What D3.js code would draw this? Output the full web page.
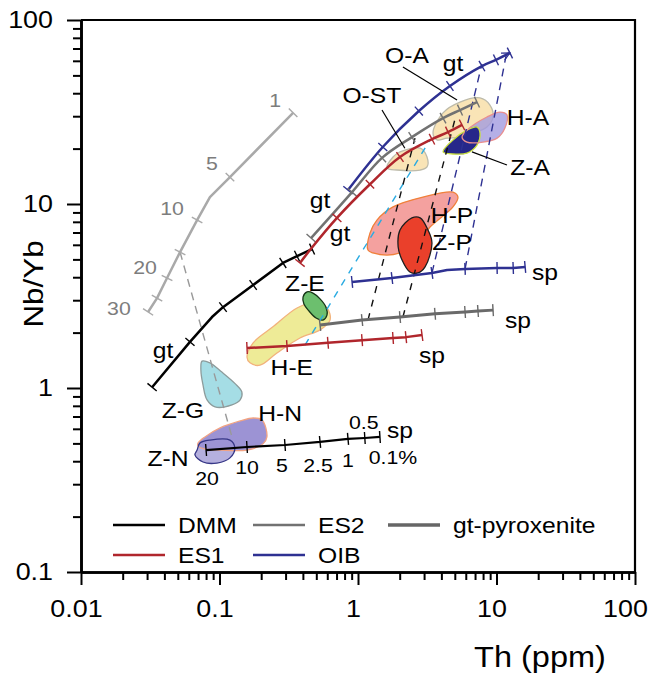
<!DOCTYPE html>
<html>
<head>
<meta charset="utf-8">
<script src="https://cdnjs.cloudflare.com/ajax/libs/d3/7.8.5/d3.min.js"></script>
<style>
body { margin: 0; background: #fff; }
svg text { font-family: "Liberation Sans", Arial, sans-serif; }
</style>
</head>
<body>
<div id="vis"></div>
<script>
"use strict";
// tick labels
var xTicks = [0.01, 0.1, 1, 10, 100];
var yTicks = [0.1, 1, 10, 100];

// melting curves, points are [Th (ppm), Nb/Yb]
var dmmGt = [[0.0326, 1.01], [0.0612, 1.78], [0.0883, 2.43], [0.106, 2.75], [0.175, 3.63], [0.287, 4.78], [0.363, 5.21], [0.466, 5.69]];
var es1Gt = [[0.381, 4.78], [0.450, 5.62], [0.705, 8.40], [1.22, 12.8], [2.01, 18.0], [3.42, 22.5], [4.47, 24.6], [5.64, 26.9]];
var es2Gt = [[0.458, 6.53], [0.906, 11.6], [1.49, 17.8], [2.45, 23.1], [4.11, 29.3], [5.45, 32.4], [7.23, 35.8]];
var oibGt = [[0.847, 11.9], [1.51, 20.4], [2.75, 32.0], [4.61, 43.8], [7.85, 56.2], [9.91, 60.7], [12.5, 66.2]];
var pyxGt = [[0.34, 31.3], [0.119, 14.0], [0.0853, 10.9], [0.0689, 8.18], [0.0519, 5.48], [0.0418, 3.96], [0.0354, 3.08], [0.0305, 2.59]];
var dmmSp = [[0.080, 0.460], [0.158, 0.478], [0.297, 0.490], [0.532, 0.509], [0.847, 0.529], [1.12, 0.535], [1.44, 0.542]];
var es1Sp = [[0.158, 1.65], [0.307, 1.69], [0.607, 1.76], [1.07, 1.82], [1.79, 1.87], [2.22, 1.89], [2.90, 1.94]];
var es2Sp = [[0.532, 2.20], [1.07, 2.34], [2.01, 2.43], [3.60, 2.53], [5.93, 2.59], [7.35, 2.62], [9.44, 2.65]];
var oibSp = [[0.906, 3.77], [1.76, 3.96], [3.42, 4.22], [4.40, 4.38], [5.93, 4.44], [10.1, 4.49], [13.2, 4.49], [16.1, 4.55]];

// mixing / tie lines
var pyxTie = [[0.0519, 5.48], [0.123, 0.542]];
var es1Tie = [[0.414, 1.71], [3.31, 22.3]];
var es2TieA = [[1.18, 2.34], [2.58, 22.8]];
var es2TieB = [[2.11, 2.43], [5.11, 30.5]];
var oibTieA = [[3.42, 4.22], [7.85, 57.7]];
var oibTieB = [[5.93, 4.44], [11.9, 67.9]];

// sample fields
var fieldZG = [[0.0748, 1.40], [0.0853, 1.37], [0.104, 1.22], [0.129, 1.06], [0.145, 0.951], [0.141, 0.861], [0.123, 0.809], [0.0929, 0.789], [0.0813, 0.861], [0.0760, 1.04], [0.0734, 1.25]];
var fieldHN = [[0.0700, 0.502], [0.0785, 0.542], [0.101, 0.607], [0.141, 0.662], [0.175, 0.687], [0.203, 0.670], [0.220, 0.542], [0.206, 0.497], [0.158, 0.460], [0.101, 0.460], [0.0785, 0.466], [0.0700, 0.484]];
var fieldZN = [[0.0689, 0.460], [0.0723, 0.502], [0.0853, 0.521], [0.119, 0.521], [0.129, 0.472], [0.119, 0.417], [0.0959, 0.391], [0.0760, 0.396], [0.0665, 0.433]];
var fieldHE = [[0.158, 1.47], [0.175, 1.76], [0.243, 2.15], [0.363, 2.72], [0.473, 2.90], [0.597, 2.72], [0.628, 2.34], [0.532, 2.07], [0.381, 1.87], [0.260, 1.55], [0.196, 1.33], [0.166, 1.37]];
var fieldZE = [[0.401, 3.12], [0.429, 3.33], [0.473, 3.28], [0.532, 3.05], [0.587, 2.75], [0.597, 2.49], [0.558, 2.34], [0.498, 2.40], [0.443, 2.62], [0.407, 2.86]];
var fieldHP = [[1.18, 5.62], [1.22, 6.95], [1.37, 8.18], [1.79, 9.64], [2.94, 10.9], [4.85, 11.6], [5.27, 10.9], [4.85, 9.64], [3.31, 7.50], [2.81, 6.37], [2.01, 5.42], [1.62, 5.28], [1.28, 5.42]];
var fieldZP = [[2.01, 7.22], [2.45, 8.40], [2.81, 8.40], [3.20, 7.22], [3.42, 6.14], [3.05, 4.55], [2.71, 4.22], [2.37, 4.27], [2.08, 4.96], [1.95, 5.84]];
var fieldOST = [[1.62, 15.7], [1.79, 18.0], [2.01, 19.2], [2.81, 20.1], [3.15, 18.0], [3.15, 15.9], [2.81, 15.3], [1.91, 15.3]];
var fieldOA = [[3.48, 24.3], [4.11, 31.3], [5.45, 35.8], [7.60, 37.7], [8.97, 34.5], [9.44, 29.7], [8.53, 26.2], [6.76, 24.3], [5.45, 23.1], [4.40, 22.8], [3.72, 22.3]];
var fieldHA = [[6.12, 25.2], [8.53, 29.7], [10.6, 31.6], [11.9, 30.5], [11.5, 25.9], [10.1, 22.8], [8.00, 21.7], [6.12, 21.7], [5.64, 23.1]];
var fieldZA = [[4.11, 19.2], [4.85, 22.3], [6.12, 25.2], [7.23, 26.2], [7.60, 24.3], [7.23, 20.9], [6.12, 18.9], [4.85, 18.7]];

// leader lines for field names
var leaders = [[[1.49, 32.4], [2.18, 20.1]], [[2.11, 55.6], [5.19, 36.7]], [[6.65, 19.2], [11.9, 16.3]]];

// labels [text, Th, Nb/Yb]
var fieldLabels = [['O-A', 2.26, 64.6], ['gt', 4.85, 58.3], ['O-ST', 1.26, 39.1], ['H-A', 16.9, 29.7], ['Z-A', 17.5, 15.9],
    ['gt', 0.532, 10.5], ['gt', 0.741, 6.95], ['H-P', 4.78, 8.71], ['Z-P', 4.78, 6.21], ['Z-E', 0.414, 3.72],
    ['sp', 22.4, 4.27], ['sp', 14.3, 2.34], ['sp', 3.42, 1.51], ['H-E', 0.333, 1.30], ['gt', 0.0391, 1.61],
    ['Z-G', 0.0544, 0.758], ['H-N', 0.274, 0.731], ['Z-N', 0.0425, 0.417], ['sp', 2.01, 0.592]];
var dmmMeltLabels = [['0.5', 1.10, 0.653], ['0.1%', 1.79, 0.422], ['1', 0.847, 0.406], ['2.5', 0.514, 0.382],
    ['5', 0.282, 0.382], ['10', 0.158, 0.372], ['20', 0.0813, 0.324]];
var pyxMeltLabels = [['1', 0.252, 36.7], ['5', 0.0883, 16.7], ['10', 0.0454, 9.51], ['20', 0.0290, 4.55], ['30', 0.0188, 2.72]];

var legendNames = ['DMM', 'ES2', 'gt-pyroxenite', 'ES1', 'OIB'];

var width = 651, height = 680;
var svg = d3.select('#vis')
    .append('svg')
    .attr('width', width)
    .attr('height', height);

var x = d3.scaleLog().domain([0.01, 100]).range([81, 635]);
var y = d3.scaleLog().domain([0.1, 100]).range([572, 20]);

var RED = '#b0262c', BLUE = '#2e3192', GRAY = '#727272', LGRAY = '#a9a9a9', CYAN = '#29abe2';

svg.append('defs').append('marker')
    .attr('id', 'chev')
    .attr('viewBox', '0 0 10 10')
    .attr('refX', 9)
    .attr('refY', 5)
    .attr('markerWidth', 4)
    .attr('markerHeight', 4)
    .attr('markerUnits', 'strokeWidth')
    .attr('orient', 'auto')
    .append('path')
    .attr('d', 'M1,1L9,5L1,9')
    .attr('fill', 'none')
    .attr('stroke', BLUE)
    .attr('stroke-width', 1.2);

var line = d3.line()
    .x(function (d) { return x(d[0]); })
    .y(function (d) { return y(d[1]); });
var smooth = d3.line()
    .x(function (d) { return x(d[0]); })
    .y(function (d) { return y(d[1]); })
    .curve(d3.curveCatmullRom);
var blob = d3.line()
    .x(function (d) { return x(d[0]); })
    .y(function (d) { return y(d[1]); })
    .curve(d3.curveCatmullRomClosed);

// fields
var fields = [
    { pts: fieldHE, fill: '#eeeb97', stroke: '#f2b27c' },
    { pts: fieldZE, fill: '#6cbf6e', stroke: '#163516' },
    { pts: fieldZG, fill: '#a5dde5', stroke: '#8d9c9c' },
    { pts: fieldZN, fill: '#b5b0de', stroke: 'none' },
    { pts: fieldHN, fill: '#9c93d4', stroke: '#f1a383' },
    { pts: fieldZN, fill: 'none', stroke: '#373787' },
    { pts: fieldHP, fill: '#f4a19f', stroke: '#f0803a' },
    { pts: fieldZP, fill: '#ea402b', stroke: '#1e1e1e' },
    { pts: fieldOST, fill: '#f9e4b6', stroke: '#bdbbaa' },
    { pts: fieldOA, fill: '#f9e4b6', stroke: '#bdbbaa' },
    { pts: fieldHA, fill: '#a39be0', stroke: 'none', opacity: 0.8 },
    { pts: fieldZA, fill: '#26278a', stroke: '#c9df3e' },
    { pts: fieldHA, fill: 'none', stroke: '#e98f8f' }
];
svg.selectAll('.field')
    .data(fields)
    .enter().append('path')
    .classed('field', true)
    .attr('d', function (f) { return blob(f.pts); })
    .attr('fill', function (f) { return f.fill; })
    .attr('fill-opacity', function (f) { return f.opacity || 1; })
    .attr('stroke', function (f) { return f.stroke; })
    .attr('stroke-width', 1.3);

// dashed tie lines
var ties = [
    { pts: pyxTie, color: '#999', dash: '8,6' },
    { pts: es1Tie, color: CYAN, dash: '7,7' },
    { pts: es2TieA, color: '#111', dash: '7,7' },
    { pts: es2TieB, color: '#111', dash: '7,7' },
    { pts: oibTieA, color: BLUE, dash: '8,6' },
    { pts: oibTieB, color: BLUE, dash: '8,6' }
];
svg.selectAll('.tie')
    .data(ties)
    .enter().append('path')
    .classed('tie', true)
    .attr('d', function (t) { return line(t.pts); })
    .attr('fill', 'none')
    .attr('stroke', function (t) { return t.color; })
    .attr('stroke-width', 1.4)
    .attr('stroke-dasharray', function (t) { return t.dash; });

// melting curves with their tick marks
var curves = [
    { pts: pyxGt, ticks: [0, 1, 3, 4, 5, 6, 7], color: LGRAY, w: 2.5, gen: line },
    { pts: dmmGt, ticks: [0, 1, 3, 4, 5, 6, 7], color: '#000', w: 2.5, gen: line },
    { pts: oibGt, ticks: [0, 1, 2, 3, 4, 5, 6], color: BLUE, w: 2.5, gen: smooth, arrow: true },
    { pts: es2Gt, ticks: [0, 1, 2, 3, 4, 5, 6], color: GRAY, w: 2.5, gen: smooth },
    { pts: es1Gt, ticks: [0, 2, 3, 4, 5, 6, 7], color: RED, w: 2.5, gen: smooth },
    { pts: oibSp, ticks: [0, 1, 2, 4, 5, 6, 7], color: BLUE, w: 2.5, gen: line },
    { pts: es2Sp, ticks: [0, 1, 2, 3, 4, 5, 6], color: '#6a6a6a', w: 3, gen: line },
    { pts: es1Sp, ticks: [0, 1, 2, 3, 4, 5, 6], color: RED, w: 2.5, gen: line },
    { pts: dmmSp, ticks: [0, 1, 2, 3, 4, 5, 6], color: '#000', w: 2.2, gen: line }
];
function tickSegs(pts, idx, len) {
    return idx.map(function (i) {
        var a = pts[Math.max(i - 1, 0)], b = pts[Math.min(i + 1, pts.length - 1)];
        var dx = x(b[0]) - x(a[0]), dy = y(b[1]) - y(a[1]);
        var l = Math.sqrt(dx * dx + dy * dy);
        var px = x(pts[i][0]), py = y(pts[i][1]);
        var nx = -dy / l * len, ny = dx / l * len;
        return [px - nx, py - ny, px + nx, py + ny];
    });
}
var cg = svg.selectAll('.curve')
    .data(curves)
    .enter().append('g')
    .classed('curve', true);
cg.append('path')
    .attr('d', function (c) { return c.gen(c.pts); })
    .attr('fill', 'none')
    .attr('stroke', function (c) { return c.color; })
    .attr('stroke-width', function (c) { return c.w; })
    .attr('stroke-linejoin', 'round')
    .attr('marker-end', function (c) { return c.arrow ? 'url(#chev)' : null; });
cg.selectAll('line')
    .data(function (c) { return tickSegs(c.pts, c.ticks, 6).map(function (s) { return { s: s, color: c.color }; }); })
    .enter().append('line')
    .attr('x1', function (d) { return d.s[0]; })
    .attr('y1', function (d) { return d.s[1]; })
    .attr('x2', function (d) { return d.s[2]; })
    .attr('y2', function (d) { return d.s[3]; })
    .attr('stroke', function (d) { return d.color; })
    .attr('stroke-width', 1.4);

// leader lines
svg.selectAll('.leader')
    .data(leaders)
    .enter().append('path')
    .classed('leader', true)
    .attr('d', line)
    .attr('stroke', '#000')
    .attr('stroke-width', 1.2);

// labels
svg.selectAll('.flab')
    .data(fieldLabels)
    .enter().append('text')
    .classed('flab', true)
    .attr('x', function (d) { return x(d[1]); })
    .attr('y', function (d) { return y(d[2]); })
    .attr('dy', '0.36em')
    .attr('text-anchor', 'middle')
    .attr('font-size', 22)
    .text(function (d) { return d[0]; });
svg.selectAll('.dlab')
    .data(dmmMeltLabels)
    .enter().append('text')
    .classed('dlab', true)
    .attr('x', function (d) { return x(d[1]); })
    .attr('y', function (d) { return y(d[2]); })
    .attr('dy', '0.36em')
    .attr('text-anchor', 'middle')
    .attr('font-size', 19)
    .text(function (d) { return d[0]; });
svg.selectAll('.plab')
    .data(pyxMeltLabels)
    .enter().append('text')
    .classed('plab', true)
    .attr('x', function (d) { return x(d[1]); })
    .attr('y', function (d) { return y(d[2]); })
    .attr('dy', '0.36em')
    .attr('text-anchor', 'middle')
    .attr('font-size', 19)
    .attr('fill', '#7d7d7d')
    .text(function (d) { return d[0]; });

// axes
var fmt = function (d) { return String(d); };
function styleAxis(g) {
    g.select('.domain').attr('stroke-width', 2.6);
    g.selectAll('.tick line').attr('stroke-width', 2);
    g.attr('font-size', 24).attr('font-family', '"Liberation Sans", Arial, sans-serif');
}
svg.append('g')
    .attr('transform', 'translate(0,572)')
    .call(d3.axisBottom(x).tickValues(x.ticks().filter(function (v) { return xTicks.indexOf(v) < 0; }))
        .tickSize(8).tickSizeOuter(0).tickFormat(''))
    .call(styleAxis);
svg.append('g')
    .attr('transform', 'translate(0,572)')
    .call(d3.axisBottom(x).tickValues(xTicks).tickSize(13).tickSizeOuter(0).tickPadding(15).tickFormat(fmt))
    .call(styleAxis)
    .selectAll('.tick text')
    .attr('x', function (d) { return d == 100 ? -10 : -5; });
svg.append('g')
    .attr('transform', 'translate(81,0)')
    .call(d3.axisLeft(y).tickValues(y.ticks().filter(function (v) { return yTicks.indexOf(v) < 0; }))
        .tickSize(8).tickSizeOuter(0).tickFormat(''))
    .call(styleAxis);
svg.append('g')
    .attr('transform', 'translate(81,0)')
    .call(d3.axisLeft(y).tickValues(yTicks).tickSize(14).tickSizeOuter(0).tickPadding(14).tickFormat(fmt))
    .call(styleAxis);

// frame
svg.append('path')
    .attr('d', 'M' + x.range()[0] + ',' + y.range()[1] + 'H' + x.range()[1] + 'V' + y.range()[0])
    .attr('fill', 'none')
    .attr('stroke', '#000')
    .attr('stroke-width', 2.2);

svg.append('text')
    .attr('transform', 'translate(43,284) rotate(-90)')
    .attr('text-anchor', 'middle')
    .attr('font-size', 28)
    .text('Nb/Yb');
svg.append('text')
    .attr('x', 540)
    .attr('y', 667)
    .attr('text-anchor', 'middle')
    .attr('font-size', 29)
    .text('Th (ppm)');

// legend
var legendColor = ['#000', GRAY, '#666', RED, BLUE];
var legendPos = [[113, 525], [253, 525], [388, 525], [113, 555], [253, 555]];
var lg = svg.selectAll('.legend')
    .data(legendNames)
    .enter().append('g')
    .classed('legend', true)
    .attr('transform', function (d, i) { return 'translate(' + legendPos[i][0] + ',' + legendPos[i][1] + ')'; });
lg.append('line')
    .attr('x1', 0)
    .attr('x2', 52)
    .attr('stroke', function (d, i) { return legendColor[i]; })
    .attr('stroke-width', function (d) { return d == 'gt-pyroxenite' ? 3.5 : 2.5; });
lg.append('text')
    .attr('x', 65)
    .attr('dy', '0.36em')
    .attr('font-size', 22)
    .text(function (d) { return d; });

// the original lettering is a little wider than Liberation Sans
svg.selectAll('text').each(function () {
    var w = this.getComputedTextLength();
    if (w > 0) {
        d3.select(this).attr('textLength', w * 1.12).attr('lengthAdjust', 'spacingAndGlyphs');
    }
});
</script>
</body>
</html>
